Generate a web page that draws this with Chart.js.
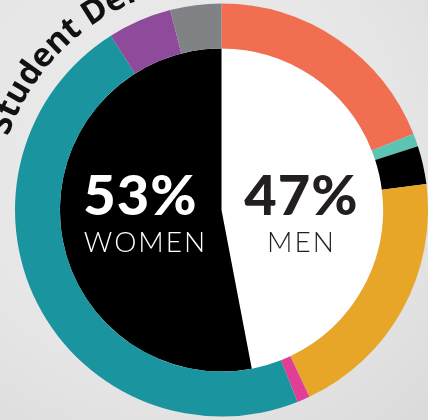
<!DOCTYPE html>
<html>
<head>
<meta charset="utf-8">
<script src="https://cdn.jsdelivr.net/npm/chart.js@4.4.1/dist/chart.umd.min.js"></script>
<style>
  html, body { margin: 0; padding: 0; }
  body { width: 428px; height: 420px; background: radial-gradient(circle at 40% 35%, #ececec 0%, #e6e6e6 60%, #dadada 100%); overflow: hidden; }
  #wrap { position: relative; width: 428px; height: 420px; }
</style>
</head>
<body>
<div id="wrap"><canvas id="demoChart" width="428" height="420"></canvas></div>
<script>
// outer ring (clockwise from top)
const ringLabels = ['Group 1', 'Group 2', 'Group 3', 'Group 4', 'Group 5', 'Group 6', 'Group 7', 'Group 8'];
const ringValues = [19, 1, 3, 20, 1, 47, 5, 4];
const ringColors = ['#f26e50', '#5dc4b4', '#000000', '#e8a628', '#e13f97', '#1a949f', '#8e4b9b', '#808285'];

// inner pie
const genderLabels = ['MEN', 'WOMEN'];
const genderValues = [47, 53];
const genderColors = ['#ffffff', '#000000'];

const chartTitle = 'Student Demographics';

const overlay = {
    id: 'overlay',
    afterDraw(chart) {
        const ctx = chart.ctx;
        const arc = chart.getDatasetMeta(0).data[0];
        const cx = arc.x, cy = arc.y;

        // percentages in the middle
        ctx.save();
        ctx.textAlign = 'center';
        ctx.textBaseline = 'alphabetic';
        ctx.font = '900 56px Lato';
        ctx.letterSpacing = '1px';
        ctx.fillStyle = '#ffffff';
        ctx.fillText(genderValues[1] + '%', cx - 81, cy + 5);
        ctx.fillStyle = '#231f20';
        ctx.fillText(genderValues[0] + '%', cx + 80, cy + 5);
        ctx.font = '300 28px Lato';
        ctx.letterSpacing = '2px';
        ctx.fillStyle = '#ffffff';
        ctx.fillText(genderLabels[1], cx - 76, cy + 42);
        ctx.fillStyle = '#231f20';
        ctx.fillText(genderLabels[0], cx + 80, cy + 42);
        ctx.restore();

        // curved title outside the ring (runs off the top edge, only the left part shows)
        ctx.save();
        ctx.beginPath();
        ctx.rect(0, 0, cx, cy);
        ctx.clip();
        ctx.font = 'bold 33px "Open Sans"';
        ctx.fillStyle = '#111111';
        ctx.textAlign = 'center';
        ctx.textBaseline = 'alphabetic';
        const r = arc.outerRadius + 19;
        let ang = -161 * Math.PI / 180;
        for (const ch of chartTitle) {
            const w = ctx.measureText(ch).width;
            const a = ang + w / 2 / r;
            ctx.save();
            ctx.translate(cx + r * Math.cos(a), cy + r * Math.sin(a));
            ctx.rotate(a + Math.PI / 2);
            ctx.fillText(ch, 0, 0);
            ctx.restore();
            ang += w / r;
        }
        ctx.restore();
    }
};

new Chart(document.getElementById('demoChart'), {
    type: 'doughnut',
    data: {
        datasets: [
            {
                label: 'Ring',
                labels: ringLabels,
                data: ringValues,
                backgroundColor: ringColors,
                borderWidth: 0,
                weight: 45
            },
            {
                label: 'Gender',
                labels: genderLabels,
                data: genderValues,
                backgroundColor: genderColors,
                borderWidth: 0,
                weight: 162
            }
        ]
    },
    options: {
        responsive: false,
        animation: false,
        cutout: 0,
        layout: { padding: { left: 15, right: 0, top: 3, bottom: 3 } },
        plugins: {
            legend: { display: false },
            tooltip: { enabled: false }
        }
    },
    plugins: [overlay]
});
</script>
</body>
</html>
